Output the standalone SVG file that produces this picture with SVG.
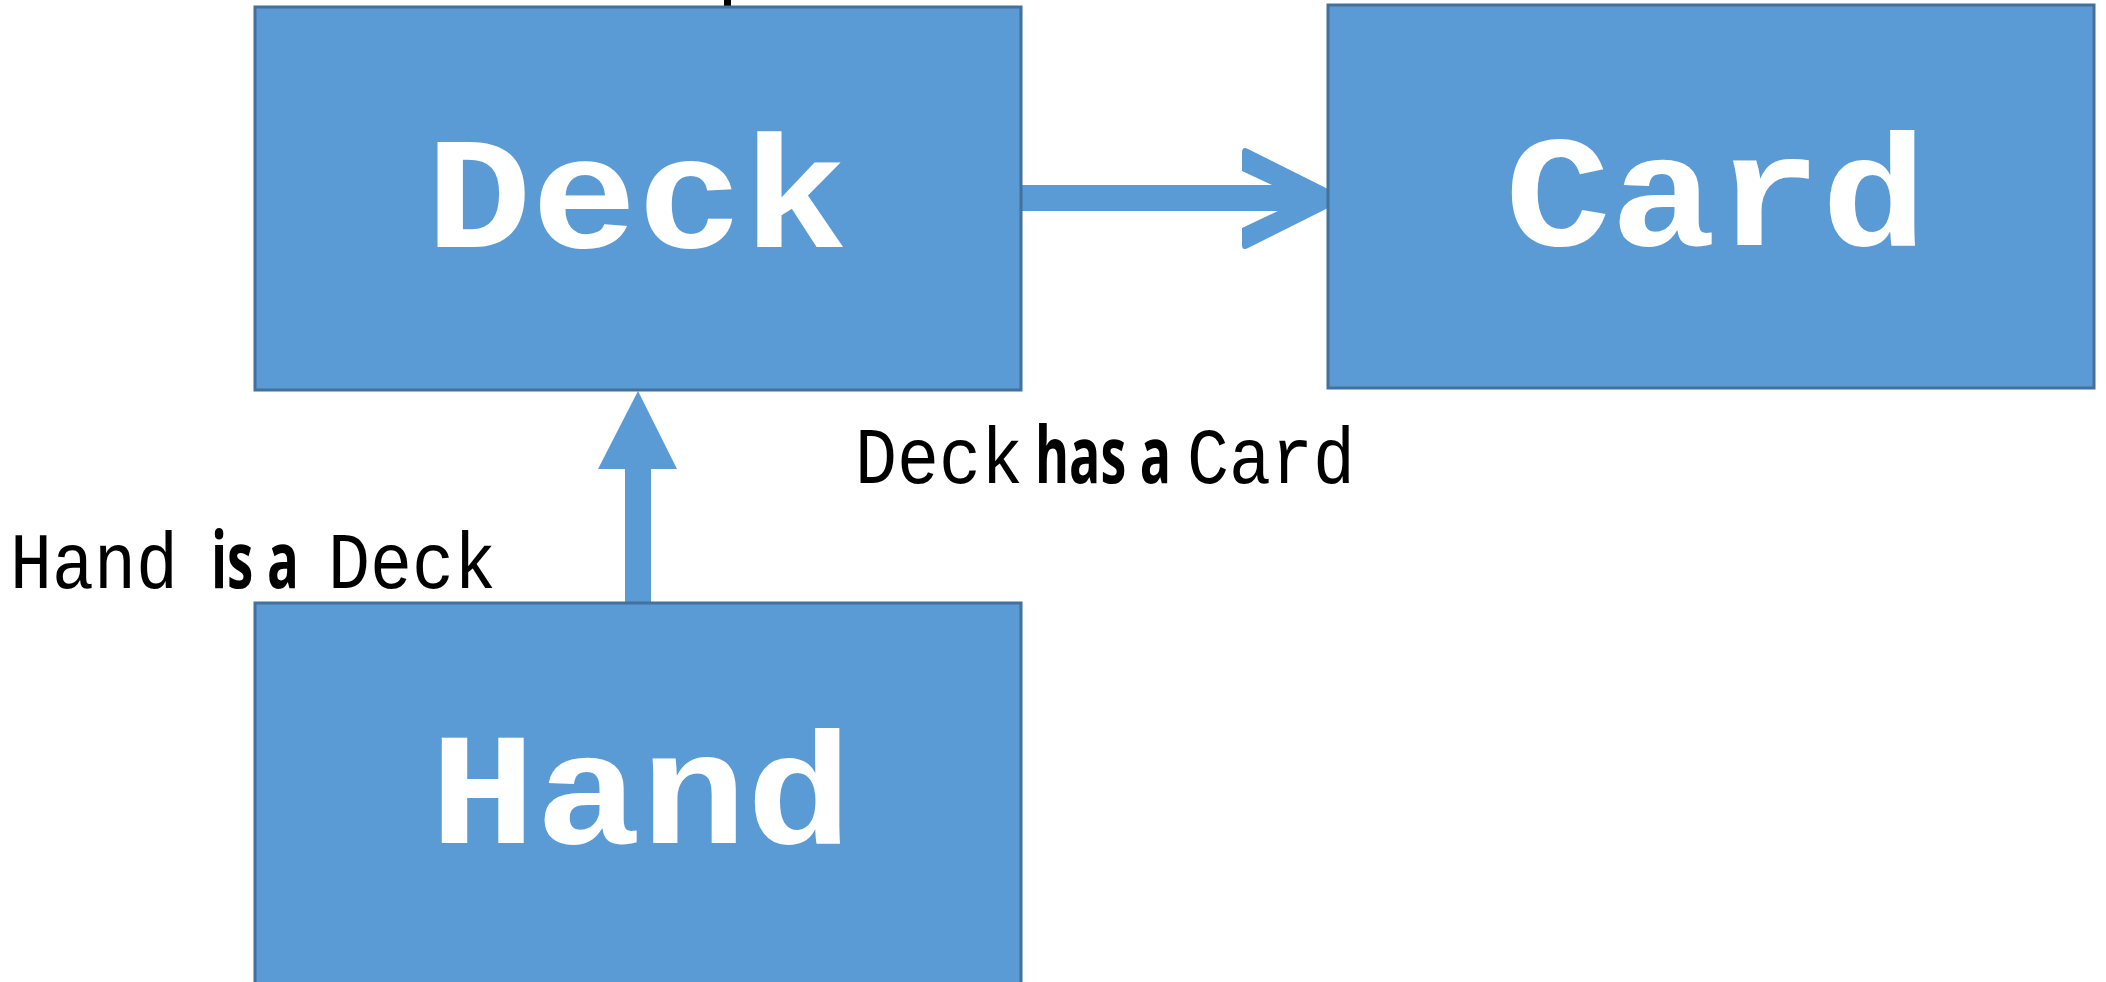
<svg xmlns="http://www.w3.org/2000/svg" width="2106" height="982" viewBox="0 0 2106 982">
<style>
.box{fill:#5B9BD5;stroke:#41719C;stroke-width:3}
.title{font-family:"Liberation Mono","Courier New",monospace;font-weight:bold;font-size:160px;fill:#FFFFFF}
.mono{font-family:"Liberation Mono","Courier New",monospace;font-size:70px;fill:#000000}
.sans{font-family:"Open Sans","Noto Sans",sans-serif;font-weight:bold;font-size:78px;fill:#000000}
.conn{fill:#5B9BD5}
</style>
<rect x="724" y="0" width="7" height="9" fill="#000000"/>
<g id="connectors">
<path class="conn" d="M1021,185 L1272,185 L1242,171 L1242,153 Q1242,146 1248,149 L1328,189 L1328,208 L1248,248 Q1242,251 1242,245 L1242,228 L1278,211 L1021,211 Z"/>
<path class="conn" d="M638,391 L677,469 L651,469 L651,603 L625,603 L625,469 L598,469 Z"/>
</g>
<g id="node-deck">
<rect class="box" x="255" y="7" width="766" height="383"/>
<text class="title" x="426" y="247" textLength="422" lengthAdjust="spacingAndGlyphs">Deck</text>
</g>
<g id="node-card">
<rect class="box" x="1328" y="5" width="766" height="383"/>
<text class="title" x="1505" y="245" textLength="422" lengthAdjust="spacingAndGlyphs">Card</text>
</g>
<g id="node-hand">
<rect class="box" x="255" y="603" width="766" height="400"/>
<text class="title" x="430" y="843" textLength="422" lengthAdjust="spacingAndGlyphs">Hand</text>
</g>
<g id="label-isa">
<text class="mono" transform="translate(10,588) scale(1,1.15)">Hand</text>
<text class="sans" x="211" y="588" textLength="88" lengthAdjust="spacingAndGlyphs">is a</text>
<text class="mono" transform="translate(328,588) scale(1,1.15)">Deck</text>
</g>
<g id="label-hasa">
<text class="mono" transform="translate(855,483) scale(1,1.15)">Deck</text>
<text class="sans" x="1035" y="483" textLength="136" lengthAdjust="spacingAndGlyphs">has a</text>
<text class="mono" transform="translate(1187,483) scale(1,1.15)">Card</text>
</g>
</svg>
